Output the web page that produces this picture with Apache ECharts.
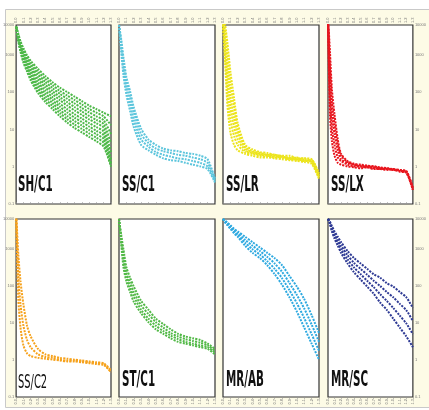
<!DOCTYPE html>
<html><head><meta charset="utf-8">
<script src="https://cdn.jsdelivr.net/npm/echarts@6/dist/echarts.min.js"></script>
<style>html,body{margin:0;padding:0;background:#fff}#c{width:429px;height:410px}</style>
</head><body><div id="c"></div>
<script>
// shared x sample positions
const xs = [0,3,6,10,15,20,30,40,50,60,70,80,90,100,110,120,130];
const xTickLabels = ['0.0','0.1','0.2','0.3','0.4','0.5','0.6','0.7','0.8','0.9','1.0','1.1','1.2','1.3'];
const yTickLabels = ['0.1','1','10','100','1000','10000'];
const panelNames = ['SH/C1','SS/C1','SS/LR','SS/LX','SS/C2','ST/C1','MR/AB','MR/SC'];
const panelColors = ['#4db848','#5cc5dc','#ece41c','#e8161e','#f6a21c','#52b947','#2ea9e0','#2e3a94'];

const shC1 = [
  [99,95,91,87,83,80,75.5,71.5,68,65,62.5,60,57.5,55,53,51,49],
  [99,94.6,90.3,86.1,82,78.8,74,69.9,66.4,63.2,60.6,58.1,55.6,53.1,51,48.9,44],
  [99,94.1,89.7,85.2,81,77.6,72.5,68.3,64.7,61.5,58.8,56.2,53.7,51.2,49,46.8,39],
  [99,93.7,89,84.4,80,76.4,71,66.7,63,59.7,56.9,54.2,51.7,49.2,47,44.7,34],
  [99,93.2,88.4,83.5,79,75.2,69.6,65.1,61.4,58,55,52.3,49.8,47.3,45.1,42.6,29],
  [99,92.8,87.6,82.5,78,73.8,67.9,63.4,59.6,56,53,50.2,47.7,45.2,42.9,40.4,25],
  [99,92.3,87,81.6,77,72.6,66.5,61.8,58,54.3,51.1,48.3,45.8,43.3,40.9,38.3,23],
  [99,91.9,86.3,80.8,76,71.4,65,60.2,56.3,52.5,49.2,46.4,43.9,41.4,39,36.2,22],
  [99,91.4,85.7,79.9,75,70.2,63.5,58.6,54.7,50.8,47.4,44.4,42,39.4,37,34.1,21],
  [99,91,85,79,74,69,62,57,53,49,45.5,42.5,40,37.5,35,32,21]
];
const ssC1 = [
  [100,92,82,71,63,54,42,36,33,31,30,29.5,28.5,28,27,25,14],
  [100,90,79,68,60,51,39,34,31,29.5,28.5,27.5,27,26,25,23,14],
  [100,88,76,65,56,47,36,32,29,27.5,26.5,25.5,25,24,23,21,13],
  [100,85,72,61,52,43,33,30,27.5,25.5,24.5,24,23,22,21,19.5,12]
];
const ssLR = [
  [100,78,55,40,33,30,28,27,26,26,25.5,25,24.5,24,23.5,22.5,14],
  [102,82,62,47,38,33,29,28,27,26.5,26.5,25.5,25.5,24.5,24.5,23.5,15],
  [104,87,69,54,43,36,30,28.5,27.5,27,26,26.5,25,25,24,24,15],
  [106,91,76,60,48,39,31,29,28,27.5,27,26,26,25,25.5,23.5,16],
  [108,96,83,67,54,42,32,29.5,28.5,27.5,27.5,26.5,25.5,26,24.5,24.5,16],
  [110,100,90,74,59,45,33,30.5,29,28.5,27.5,27,27,25.5,25.5,25,17]
];
const ssLX = [
  [100,50,35,27,23,22,21,20.5,20,20.5,19.5,19.5,19,19.5,18,17.5,8],
  [101,59,42,33,26,24,22,21,21,20.5,20,19.5,19.5,19,18.5,17.5,8],
  [102,68,50,39,30,25,23,22,21,21,20.5,20,19.5,19.5,18.5,18,8],
  [104,76,57,44,33,27,23.5,22,21.5,21,21,20,20,19,19,18,9],
  [105,85,64,50,36,28,24,22.5,22,21.5,21,20.5,20,19.5,19,18.5,9]
];
const ssC2 = [
  [100,55,39,29,24.5,23,22,21.5,21,20.5,20,20,19.5,19,18.5,18,14],
  [102,68,52,40,32,28,24,22.5,22,21,20.5,20.5,20,19.5,19,18.5,14],
  [105,80,65,52,40,34,27,24,23,22,21.5,21,20.5,20,19.5,19,15]
];
const stC1 = [
  [100,91,83,73,67,62,54,49,44,41,38,35.5,34,33,32,30,27],
  [100,89.5,80,70,64,59,51.5,46.5,42,39,36,34,32.5,31.5,30.5,29,26],
  [100,88,76.5,67.5,61.5,56.5,49,44,40,37,34.5,32.5,31,30,29,28,25],
  [100,86,73,65,59,53.5,47,42,38,35.5,33,31,30,29,28,27,24]
];
const mrAB = [
  [100,99,98,96.5,94.5,93,90,87,84,81,78,74,68,62,55,46,36],
  [100,98.7,97.5,95.8,93.7,92,88.3,85,82,78.7,75,70.3,64,57.3,49.7,40.7,31],
  [100,98.3,97,95.2,92.8,91,86.7,83,80,76.3,72,66.7,60,52.7,44.3,35.3,26],
  [100,98,96.5,94.5,92,90,85,81,78,74,69,63,56,48,39,30,21]
];
const mrSC = [
  [100,98.5,96,93,90,87,82,78,75,72,69,67,64,62,59,56,50],
  [100,98,95,91.7,88.3,85,79.7,75.3,72,68.7,65.3,62.3,59,56,52.3,48.7,42.7],
  [100,97.5,94,90.3,86.7,83,77.3,72.7,69,65.3,61.7,57.7,54,50,45.7,41.3,35.3],
  [100,97,93,89,85,81,75,70,66,62,58,53,49,44,39,34,28]
];
const panelData = [shC1, ssC1, ssLR, ssLX, ssC2, stC1, mrAB, mrSC];

const lefts = [15, 119, 223, 328];
const tops = [25, 219];
const heights = [179, 178];
const W = 96;
const yStep = 100 / 4.8;

const grids = [], xAxes = [], yAxes = [], series = [], graphics = [];
graphics.push({type:'rect', z:-100, silent:true, shape:{x:5.5,y:9.5,width:430,height:398},
  style:{fill:'#fdfbe6', stroke:'#c9c9c9', lineWidth:1}});

panelNames.forEach((name, i) => {
  const row = Math.floor(i / 4), col = i % 4;
  grids.push({left: lefts[col], top: tops[row], width: W, height: heights[row],
    show: true, backgroundColor: '#fff', borderColor: '#333', borderWidth: 1.2});
  xAxes.push({type:'value', gridIndex:i, min:0, max:130, interval:10,
    position: row === 0 ? 'top' : 'bottom',
    axisLine:{show:false}, splitLine:{show:false},
    axisTick:{show:true, length:2, lineStyle:{color:'#999', width:0.6}},
    axisLabel:{show:true, interval:0, rotate:90, fontSize:4, margin:2, color:'#777',
      formatter: v => xTickLabels[Math.round(v / 10)]}});
  const showY = (col === 0 || col === 3);
  yAxes.push({type:'value', gridIndex:i, min:0, max:100, interval:yStep,
    position: col === 3 ? 'right' : 'left',
    axisLine:{show:false}, splitLine:{show:false}, axisTick:{show:false},
    axisLabel:{show:showY, fontSize:4, margin:2, color:'#777',
      formatter: v => yTickLabels[Math.round(v / yStep)]}});
  panelData[i].forEach(c => series.push({
    type:'line', xAxisIndex:i, yAxisIndex:i, silent:true, animation:false,
    data: xs.map((x, k) => [x, c[k]]),
    showSymbol:false, smooth:0.25, clip:true,
    lineStyle:{color:panelColors[i], width:2, type:[2,1.2]}
  }));
  const isC2 = name === 'SS/C2';
  graphics.push({type:'text', z:100, silent:true,
    x: lefts[col] + 3, y: row === 0 ? 186 : (isC2 ? 383 : 380.5),
    scaleY: isC2 ? 1.75 : 1.8,
    style:{text:name, fill:'#111',
      font: (isC2 ? 'normal 11px' : 'bold 11.5px') + ' "Liberation Sans Narrow", "DejaVu Sans Condensed", Arial, sans-serif',
      textAlign:'left', textVerticalAlign:'middle'}});
});

const chart = echarts.init(document.getElementById('c'), null, {renderer:'canvas'});
chart.setOption({
  backgroundColor:'#fff', animation:false,
  grid: grids, xAxis: xAxes, yAxis: yAxes, series: series,
  graphic: {elements: graphics}
});
</script></body></html>
